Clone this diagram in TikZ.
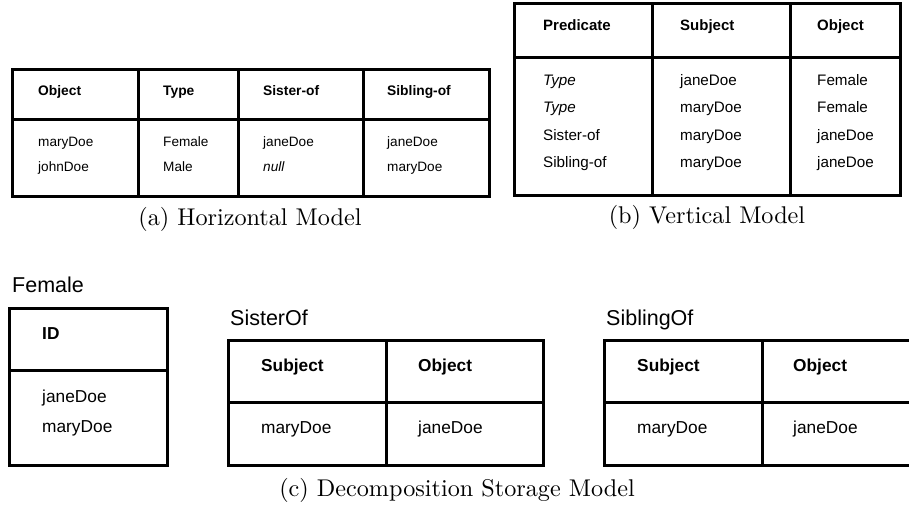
\documentclass[tikz,border=0pt]{standalone}
\usepackage{fontspec}
\setsansfont{Liberation Sans}
\newfontfamily\capfont{lmroman10-regular.otf}
\begin{document}
\begin{tikzpicture}[x=1pt,y=-1pt,
  tbl/.style={line width=3pt},
  cell/.style={anchor=base west,inner sep=0pt,font=\sffamily\fontsize{#1}{#1}\selectfont},
  hcell/.style={anchor=base west,inner sep=0pt,font=\sffamily\bfseries\fontsize{#1}{#1}\selectfont},
  icell/.style={anchor=base west,inner sep=0pt,font=\sffamily\itshape\fontsize{#1}{#1}\selectfont},
  lbl/.style={anchor=base west,inner sep=0pt,font=\sffamily\fontsize{21.5}{21.5}\selectfont},
  captxt/.style={anchor=base,inner sep=0pt,font=\capfont\fontsize{24.2}{24.2}\selectfont}]
\useasboundingbox (0,0) rectangle (909,506);

% (a) Horizontal model
\draw[tbl] (12,69) rectangle (489,196);
\draw[tbl] (12,119) -- (489,119);
\foreach \xx in {138,238,363} \draw[tbl] (\xx,69) -- (\xx,196);
\node[hcell=13.8] (a1) at (38,95) {Object};
\node[hcell=13.8] (a2) at (163,95) {Type};
\node[hcell=13.8] (a3) at (263,95) {Sister-of};
\node[hcell=13.8] (a4) at (387,95) {Sibling-of};
\node[cell=13.6] (a11) at (38,146) {maryDoe};
\node[cell=13.6] (a12) at (38,171) {johnDoe};
\node[cell=13.6] (a21) at (163,146) {Female};
\node[cell=13.6] (a22) at (163,171) {Male};
\node[cell=13.6] (a31) at (263,146) {janeDoe};
\node[icell=13.6] (a32) at (263,171) {null};
\node[cell=13.6] (a41) at (387,146) {janeDoe};
\node[cell=13.6] (a42) at (387,171) {maryDoe};
\node[captxt] (capa) at (250,225) {(a) Horizontal Model};

% (b) Vertical model
\draw[tbl] (514,3) rectangle (900,195);
\draw[tbl] (514,57) -- (900,57);
\foreach \xx in {652,790} \draw[tbl] (\xx,3) -- (\xx,195);
\node[hcell=15] (b1) at (543,30) {Predicate};
\node[hcell=15] (b2) at (680,30) {Subject};
\node[hcell=15] (b3) at (817,30) {Object};
\node[icell=15.2] (b11) at (543,85) {Type};
\node[icell=15.2] (b12) at (543,112.5) {Type};
\node[cell=15.2] (b13) at (543,140) {Sister-of};
\node[cell=15.2] (b14) at (543,167) {Sibling-of};
\node[cell=15.2] (b21) at (680,85) {janeDoe};
\node[cell=15.2] (b22) at (680,112.5) {maryDoe};
\node[cell=15.2] (b23) at (680,140) {maryDoe};
\node[cell=15.2] (b24) at (680,167) {maryDoe};
\node[cell=15.2] (b31) at (817,85) {Female};
\node[cell=15.2] (b32) at (817,112.5) {Female};
\node[cell=15.2] (b33) at (817,140) {janeDoe};
\node[cell=15.2] (b34) at (817,167) {janeDoe};
\node[captxt] (capb) at (707,223) {(b) Vertical Model};

% (c) Decomposition storage model
\node[lbl] (lf) at (12,292) {Female};
\draw[tbl] (9,308) rectangle (167,465);
\draw[tbl] (9,370) -- (167,370);
\node[hcell=17.3] (f1) at (42,339) {ID};
\node[cell=17.3] (f11) at (42,402) {janeDoe};
\node[cell=17.3] (f12) at (42,432) {maryDoe};

\node[lbl] (ls) at (230,325) {SisterOf};
\draw[tbl] (228,340) rectangle (543,465);
\draw[tbl] (228,402) -- (543,402);
\draw[tbl] (386,340) -- (386,465);
\node[hcell=17.3] (s1) at (261,371) {Subject};
\node[hcell=17.3] (s2) at (418,371) {Object};
\node[cell=17.3] (s11) at (261,433) {maryDoe};
\node[cell=17.3] (s21) at (418,433) {janeDoe};

\node[lbl] (lb) at (606,325) {SiblingOf};
\draw[tbl] (909,340) -- (604,340) -- (604,465) -- (909,465);
\draw[tbl] (604,402) -- (909,402);
\draw[tbl] (762,340) -- (762,465);
\node[hcell=17.3] (g1) at (637,371) {Subject};
\node[hcell=17.3] (g2) at (793,371) {Object};
\node[cell=17.3] (g11) at (637,433) {maryDoe};
\node[cell=17.3] (g21) at (793,433) {janeDoe};

\node[captxt] (capc) at (457,496) {(c) Decomposition Storage Model};
\end{tikzpicture}
\end{document}
